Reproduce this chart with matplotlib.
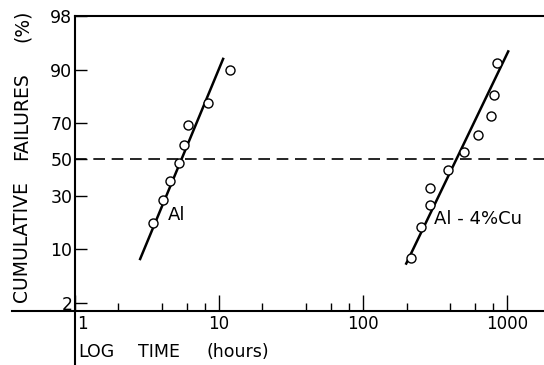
import numpy as np
import matplotlib
matplotlib.use("Agg")
import matplotlib.pyplot as plt
import matplotlib.transforms as mtransforms
from statistics import NormalDist

# data (time in hours, cumulative failures in %)
al_time = [3.48, 4.08, 4.57, 5.27, 5.71, 6.09, 8.39, 11.9]
al_fail = [18, 28, 38, 48, 58, 69, 79, 90]
al_fit_time = [2.83, 10.66]
al_fit_fail = [7.7, 92.5]

cu_time = [215, 253, 292, 292, 389, 503, 629, 774, 812, 853]
cu_fail = [7.9, 16.5, 25.5, 34, 44, 54.4, 63.9, 73.1, 82.1, 91.7]
cu_fit_time = [199, 1016]
cu_fit_fail = [6.8, 93.9]

y_ticks = [2, 10, 30, 50, 70, 90, 98]
x_ticks = [1, 10, 100, 1000]
x_minor = [m * d for d in (1, 10, 100, 1000) for m in (2, 4, 6, 8)]

XMIN, XMAX = 0.365, 1800

nd = NormalDist()


def _fwd(p):
    p = np.clip(np.asarray(p, dtype=float), 1e-4, 100 - 1e-4)
    return np.vectorize(lambda v: nd.inv_cdf(v / 100.0))(p) if p.size else p


def _inv(z):
    z = np.asarray(z, dtype=float)
    return np.vectorize(lambda v: nd.cdf(v) * 100.0)(z) if z.size else z


fig = plt.figure(figsize=(5.44, 3.65), dpi=100)
ax = fig.add_axes([12 / 544, 54 / 365, 532 / 544, 295 / 365])

ax.set_xscale("log")
ax.set_yscale("function", functions=(_fwd, _inv))

# dashed 50% line starts at the y axis (t = 1)
x0 = (0 - np.log10(XMIN)) / (np.log10(XMAX) - np.log10(XMIN))
ax.axhline(50, xmin=x0, color="black", lw=1.2, dashes=(7, 4))

# fitted lines and points
ax.plot(al_fit_time, al_fit_fail, color="black", lw=1.8)
ax.plot(cu_fit_time, cu_fit_fail, color="black", lw=1.8)
ax.plot(al_time, al_fail, "o", mfc="white", mec="black", ms=6.5, mew=1.0)
ax.plot(cu_time, cu_fail, "o", mfc="white", mec="black", ms=6.5, mew=1.0)

ax.text(4.42, 21.3, "Al", fontsize=13, va="center", ha="left")
ax.text(311, 19.8, "Al - 4%Cu", fontsize=13, va="center", ha="left")

ax.set_xlim(XMIN, XMAX)
ax.set_ylim(1.5, 98)

# axes lines
ax.spines["right"].set_visible(False)
ax.spines["left"].set_position(("data", 1))
ax.spines["top"].set_bounds(1, XMAX)
for s in ("left", "top", "bottom"):
    ax.spines[s].set_linewidth(1.5)
ax.add_line(matplotlib.lines.Line2D([1, 1], [0, -0.2], color="black", lw=1.5,
                                    clip_on=False,
                                    transform=ax.get_xaxis_transform()))

# ticks
ax.set_yticks(y_ticks)
ax.set_yticklabels([str(v) for v in y_ticks])
ax.yaxis.set_minor_locator(matplotlib.ticker.NullLocator())
ax.tick_params(axis="y", direction="in", length=8.6, width=1.0, pad=2,
               labelsize=12.5)
ax.set_xticks(x_ticks)
ax.set_xticklabels([str(v) for v in x_ticks])
ax.set_xticks(x_minor, minor=True)
ax.xaxis.set_minor_formatter(matplotlib.ticker.NullFormatter())
ax.tick_params(axis="x", which="major", direction="in", length=11.5,
               width=1.0, pad=3, labelsize=12)
ax.tick_params(axis="x", which="minor", direction="in", length=5.8,
               width=1.0)
ax.set_xlim(XMIN, XMAX)
lab1 = ax.get_xticklabels()[0]
lab1.set_transform(lab1.get_transform() +
                   mtransforms.ScaledTranslation(7 / 100, 0, fig.dpi_scale_trans))

# axis titles, word by word as spaced in the original
for word, yc in (("CUMULATIVE", 241.5), ("FAILURES", 116), ("(%)", 25.5)):
    fig.text(22 / 544, 1 - yc / 365, word, rotation=90, ha="center",
             va="center", fontsize=13.5)
for word, xl in (("LOG", 78), ("TIME", 138), ("(hours)", 207)):
    fig.text(xl / 544, 1 - 352 / 365, word, ha="left", va="center",
             fontsize=12.5)

fig.savefig("out.png", dpi=100)
